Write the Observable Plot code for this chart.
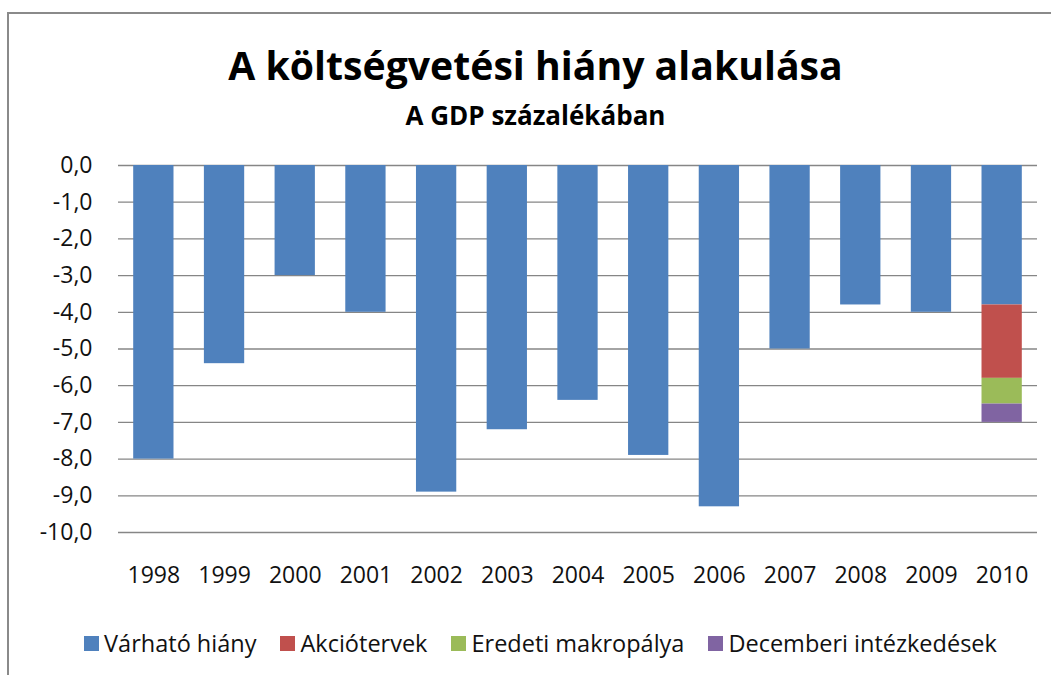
<!DOCTYPE html>
<html>
<head>
<meta charset="utf-8">
<script src="https://cdn.jsdelivr.net/npm/d3@7"></script>
<script src="https://cdn.jsdelivr.net/npm/@observablehq/plot@0.6"></script>
<style>
  html, body { margin: 0; padding: 0; background: #fff; overflow: hidden; }
  #wrap { position: relative; width: 1051px; height: 675px; overflow: hidden; font-family: "Open Sans", sans-serif; color: #000; }
  #frame { position: absolute; left: 7px; top: 12px; width: 1100px; height: 700px; border-left: 2px solid #8a8a8a; border-top: 2px solid #8a8a8a; }
  #title { position: absolute; left: 10px; width: 1051px; top: 45px; text-align: center; font-weight: bold; font-size: 39.2px; line-height: 1; white-space: nowrap; }
  #subtitle { position: absolute; left: 10px; width: 1051px; top: 102px; text-align: center; font-weight: bold; font-size: 26px; line-height: 1; white-space: nowrap; }
  #chart { position: absolute; left: 0; top: 0; }
  #legend { position: absolute; left: 15px; width: 1051px; top: 632px; display: flex; justify-content: center; gap: 24px; font-size: 23.5px; line-height: 1; color: #111; white-space: nowrap; }
  .item { display: flex; align-items: center; gap: 5px; }
  .sw { width: 15px; height: 15px; display: inline-block; }
</style>
</head>
<body>
<div id="wrap">
  <div id="frame"></div>
  <div id="title">A költségvetési hiány alakulása</div>
  <div id="subtitle">A GDP százalékában</div>
  <div id="chart"></div>
  <div id="legend"></div>
</div>
<script>
const years = ["1998","1999","2000","2001","2002","2003","2004","2005","2006","2007","2008","2009","2010"];
const varhatoHiany = [-8.0, -5.4, -3.0, -4.0, -8.9, -7.2, -6.4, -7.9, -9.3, -5.0, -3.8, -4.0, -3.8];
const seriesNames = ["Várható hiány", "Akciótervek", "Eredeti makropálya", "Decemberi intézkedések"];
const seriesColors = ["#4F81BD", "#C0504D", "#9BBB59", "#8064A2"];
const extraYear = "2010";
const akciotervek = -2.0;
const eredetiMakropalya = -0.7;
const decemberiIntezkedesek = -0.5;
const yTicks = [0, -1, -2, -3, -4, -5, -6, -7, -8, -9, -10];

const data = [];
years.forEach((y, i) => data.push({year: y, series: seriesNames[0], value: varhatoHiany[i]}));
data.push({year: extraYear, series: seriesNames[1], value: akciotervek});
data.push({year: extraYear, series: seriesNames[2], value: eredetiMakropalya});
data.push({year: extraYear, series: seriesNames[3], value: decemberiIntezkedesek});

const fmt = d => d.toFixed(1).replace(".", ",");

const chart = Plot.plot({
  width: 1051,
  height: 600,
  marginTop: 165,
  marginBottom: 68,
  marginLeft: 118,
  marginRight: 14,
  style: {fontFamily: "'Open Sans', sans-serif", fontSize: "23px", color: "#000", background: "transparent"},
  x: {domain: years, paddingInner: 0.43, paddingOuter: 0.215, round: false},
  y: {domain: [-10, 0]},
  color: {domain: seriesNames, range: seriesColors},
  marks: [
    Plot.gridY(yTicks, {stroke: "#868686", strokeOpacity: 1, strokeWidth: 1.3}),
    Plot.barY(data, Plot.stackY({x: "year", y: "value", fill: "series", order: seriesNames})),
    Plot.axisY(yTicks, {tickSize: 0, tickPadding: 26, tickFormat: fmt, label: null, fill: "#111"}),
    Plot.axisX({tickSize: 0, tickPadding: 34, label: null, fill: "#111"})
  ]
});
document.getElementById("chart").appendChild(chart);

const legend = document.getElementById("legend");
seriesNames.forEach((n, i) => {
  const it = document.createElement("div");
  it.className = "item";
  const sw = document.createElement("span");
  sw.className = "sw";
  sw.style.background = seriesColors[i];
  const t = document.createElement("span");
  t.textContent = n;
  it.appendChild(sw); it.appendChild(t);
  legend.appendChild(it);
});
</script>
</body>
</html>
